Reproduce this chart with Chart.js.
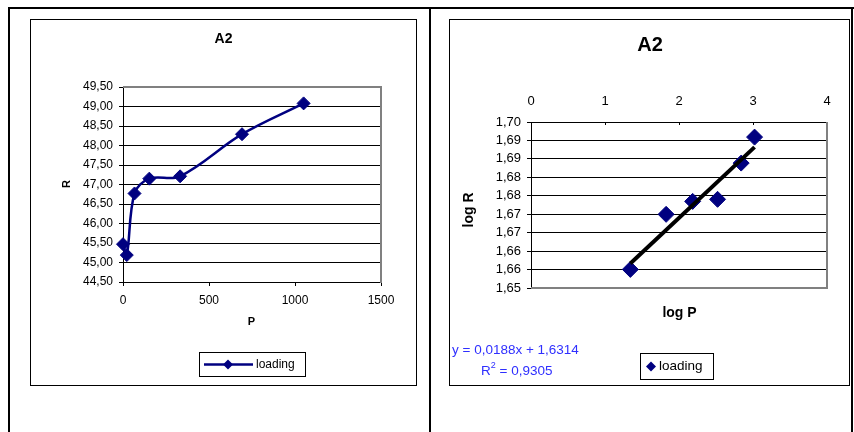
<!DOCTYPE html>
<html>
<head>
<meta charset="utf-8">
<script src="https://cdn.jsdelivr.net/npm/chart.js@4.4.0/dist/chart.umd.min.js"></script>
<style>
  html, body { margin: 0; padding: 0; background: #fff; }
  #page { position: relative; width: 854px; height: 432px; overflow: hidden; background: #fff; }
  .rule { position: absolute; background: #000; }
  .frame { position: absolute; border: 1px solid #000; background: #fff; }
  .frame canvas { display: block; }
</style>
</head>
<body>
<div id="page">
  <!-- table lines -->
  <div class="rule" style="left:8px; top:7px; width:846px; height:2px"></div>
  <div class="rule" style="left:8px; top:7px; width:2px; height:425px"></div>
  <div class="rule" style="left:429px; top:7px; width:2px; height:425px"></div>
  <div class="rule" style="left:851px; top:7px; width:2px; height:425px"></div>

  <div class="frame" style="left:30px; top:19px; width:385px; height:365px">
    <canvas id="linear" width="385" height="365"></canvas>
  </div>
  <div class="frame" style="left:449px; top:19px; width:399px; height:365px">
    <canvas id="loglog" width="399" height="365"></canvas>
  </div>
</div>

<script>
// ---- Data ----
const chartTitle = 'A2';
const seriesName = 'loading';
const pressure   = [0, 22, 67, 153, 332, 692, 1050];
const resistance = [45.47, 45.19, 46.77, 47.15, 47.21, 48.29, 49.08];

// axis ranges
const pAxis = [0, 1500, 500];          // min, max, step
const rAxis = [44.5, 49.5, 0.5];
const logPAxis = [0, 4, 1];
const logRTickValues = [1.65, 1.655, 1.66, 1.665, 1.67, 1.675, 1.68, 1.685, 1.69, 1.695];
const logRTickLabels = ['1,65', '1,66', '1,66', '1,67', '1,67', '1,68', '1,68', '1,69', '1,69', '1,70'];

// linear trend on the log-log data
const trendSlope = 0.0188;
const trendIntercept = 1.6314;
const trendR2 = 0.9305;

// ---- Styles ----
const FONT = "'Liberation Sans', Arial, sans-serif";
const NAVY = '#000080';
const EQ_BLUE = '#2f2fff';
const PLOT_EDGE = '#808080';

const comma = (v, d) => v.toFixed(d).replace('.', ',');

function diamond(ctx, x, y, r) {
    ctx.beginPath();
    ctx.moveTo(x, y - r);
    ctx.lineTo(x + r, y);
    ctx.lineTo(x, y + r);
    ctx.lineTo(x - r, y);
    ctx.closePath();
    ctx.fill();
}

// grey plot-area edges (Excel style), drawn over the grid
const plotEdgePlugin = {
    id: 'plotEdge',
    beforeDatasetsDraw(chart, args, opts) {
        const { ctx, chartArea: a } = chart;
        ctx.save();
        ctx.strokeStyle = PLOT_EDGE;
        ctx.lineWidth = 2;
        ctx.beginPath();
        for (const side of opts.sides || []) {
            if (side === 'top')    { ctx.moveTo(a.left, a.top);    ctx.lineTo(a.right + 1, a.top); }
            if (side === 'right')  { ctx.moveTo(a.right, a.top);   ctx.lineTo(a.right, a.bottom + 1); }
            if (side === 'bottom') { ctx.moveTo(a.left, a.bottom); ctx.lineTo(a.right + 1, a.bottom); }
        }
        ctx.stroke();
        ctx.restore();
    }
};

// titles, axis names, legend box and free text
const frameTextPlugin = {
    id: 'frameText',
    afterDraw(chart, args, opts) {
        const ctx = chart.ctx;
        ctx.save();
        ctx.textBaseline = 'middle';
        for (const t of opts.items || []) {
            ctx.save();
            ctx.font = t.font;
            ctx.fillStyle = t.color || '#000';
            ctx.textAlign = t.align || 'center';
            ctx.translate(t.x, t.y);
            if (t.rotate) ctx.rotate(t.rotate);
            if (t.sup) {
                // base text followed by a superscript and a tail
                let x = 0;
                ctx.fillText(t.text, x, 0);
                x += ctx.measureText(t.text).width;
                ctx.font = t.supFont;
                ctx.fillText(t.sup, x, -5);
                x += ctx.measureText(t.sup).width;
                ctx.font = t.font;
                ctx.fillText(t.tail, x, 0);
            } else {
                ctx.fillText(t.text, 0, 0);
            }
            ctx.restore();
        }

        const lg = opts.legend;
        if (lg) {
            const ds = chart.data.datasets.find(d => d.label === seriesName);
            ctx.strokeStyle = '#000';
            ctx.lineWidth = 1;
            ctx.strokeRect(lg.box[0] + 0.5, lg.box[1] + 0.5, lg.box[2], lg.box[3]);
            const cy = lg.box[1] + lg.box[3] / 2 + 0.5;
            if (lg.line) {
                ctx.strokeStyle = ds.borderColor;
                ctx.lineWidth = 2.5;
                ctx.beginPath();
                ctx.moveTo(lg.line[0], cy);
                ctx.lineTo(lg.line[1], cy);
                ctx.stroke();
            }
            ctx.fillStyle = ds.pointBackgroundColor;
            diamond(ctx, lg.marker, cy, lg.radius);
            ctx.fillStyle = '#000';
            ctx.font = lg.font;
            ctx.textAlign = 'left';
            ctx.fillText(ds.label, lg.textX, cy);
        }
        ctx.restore();
    }
};

const tickFont = (size) => ({ family: FONT, size: size });

// ---- R against P ----
new Chart(document.getElementById('linear'), {
    type: 'scatter',
    data: {
        datasets: [{
            label: seriesName,
            data: pressure.map((p, i) => ({ x: p, y: resistance[i] })),
            showLine: true,
            tension: 0.35,
            borderColor: NAVY,
            borderWidth: 2.5,
            pointStyle: 'rectRot',
            pointRadius: 6.5,
            pointHoverRadius: 6.5,
            pointBackgroundColor: NAVY,
            pointBorderColor: NAVY,
            pointBorderWidth: 1,
            clip: false
        }]
    },
    options: {
        responsive: false,
        animation: false,
        events: [],
        layout: { padding: { left: 0, right: 35, top: 67, bottom: 73 } },
        plugins: {
            legend: { display: false },
            tooltip: { enabled: false },
            plotEdge: { sides: ['top', 'right'] },
            frameText: {
                items: [
                    { text: chartTitle, x: 192.5, y: 19.5, font: 'bold 14px ' + FONT },
                    { text: 'R', x: 35.5, y: 164, font: 'bold 11px ' + FONT, rotate: -Math.PI / 2 },
                    { text: 'P', x: 220.5, y: 301.5, font: 'bold 11px ' + FONT }
                ],
                legend: { box: [168, 332, 106, 24], line: [173, 222], marker: 197, radius: 5, textX: 225, font: '12px ' + FONT }
            }
        },
        scales: {
            x: {
                type: 'linear',
                min: pAxis[0], max: pAxis[1],
                ticks: { stepSize: pAxis[2], color: '#000', font: tickFont(12), padding: 7, maxRotation: 0,
                         callback: v => String(v) },
                grid: { drawOnChartArea: false, color: '#000', tickLength: 4 },
                border: { color: '#000' },
                afterFit(s) { s.height = 30; }
            },
            y: {
                min: rAxis[0], max: rAxis[1],
                ticks: { stepSize: rAxis[2], color: '#000', font: tickFont(12), padding: 6, autoSkip: false,
                         callback: v => comma(v, 2) },
                grid: { color: '#000', tickLength: 4 },
                border: { color: '#000' },
                afterFit(s) { s.width = 92; }
            }
        }
    },
    plugins: [plotEdgePlugin, frameTextPlugin]
});

// ---- log R against log P ----
const logPoints = pressure
    .map((p, i) => ({ p: p, r: resistance[i] }))
    .filter(d => d.p > 0)
    .map(d => ({ x: Math.log10(d.p), y: Math.log10(d.r) }));
const trendX = [logPoints[0].x, logPoints[logPoints.length - 1].x];

new Chart(document.getElementById('loglog'), {
    type: 'scatter',
    data: {
        datasets: [
            {
                label: seriesName,
                data: logPoints,
                order: 1,
                pointStyle: 'rectRot',
                pointRadius: 8,
                pointHoverRadius: 8,
                pointBackgroundColor: NAVY,
                pointBorderColor: NAVY,
                pointBorderWidth: 1,
                borderColor: NAVY,
                clip: false
            },
            {
                label: 'trend',
                data: trendX.map(x => ({ x: x, y: trendSlope * x + trendIntercept })),
                order: 0,
                showLine: true,
                borderColor: '#000',
                borderWidth: 4,
                pointRadius: 0,
                clip: false
            }
        ]
    },
    options: {
        responsive: false,
        animation: false,
        events: [],
        layout: { padding: { left: 0, right: 22, top: 72, bottom: 97 } },
        plugins: {
            legend: { display: false },
            tooltip: { enabled: false },
            plotEdge: { sides: ['right', 'bottom'] },
            frameText: {
                items: [
                    { text: chartTitle, x: 200, y: 25, font: 'bold 20px ' + FONT },
                    { text: 'log R', x: 19, y: 190, font: 'bold 14px ' + FONT, rotate: -Math.PI / 2 },
                    { text: 'log P', x: 229.5, y: 293.5, font: 'bold 14px ' + FONT },
                    { text: 'y = ' + comma(trendSlope, 4) + 'x + ' + comma(trendIntercept, 4),
                      x: 2, y: 330, align: 'left', color: EQ_BLUE, font: '13.5px ' + FONT },
                    { text: 'R', sup: '2', tail: ' = ' + comma(trendR2, 4),
                      x: 31, y: 351, align: 'left', color: EQ_BLUE, font: '13.5px ' + FONT, supFont: '9px ' + FONT }
                ],
                legend: { box: [190, 333, 73, 26], marker: 201, radius: 5, textX: 209, font: '13.5px ' + FONT }
            }
        },
        scales: {
            x: {
                type: 'linear',
                position: 'top',
                min: logPAxis[0], max: logPAxis[1],
                ticks: { stepSize: logPAxis[2], color: '#000', font: tickFont(13), padding: 16, maxRotation: 0,
                         callback: v => String(v) },
                grid: { drawOnChartArea: false, color: '#000', tickLength: -3 },
                border: { color: '#000' },
                afterFit(s) { s.height = 30; }
            },
            y: {
                min: logRTickValues[0], max: logRTickValues[logRTickValues.length - 1],
                afterBuildTicks(s) { s.ticks = logRTickValues.map(v => ({ value: v })); },
                ticks: { color: '#000', font: tickFont(13), padding: 6, autoSkip: false,
                         callback: (v, i) => logRTickLabels[i] },
                grid: { color: '#000', tickLength: 4 },
                border: { color: '#000' },
                afterFit(s) { s.width = 81; }
            }
        }
    },
    plugins: [plotEdgePlugin, frameTextPlugin]
});
</script>
</body>
</html>
